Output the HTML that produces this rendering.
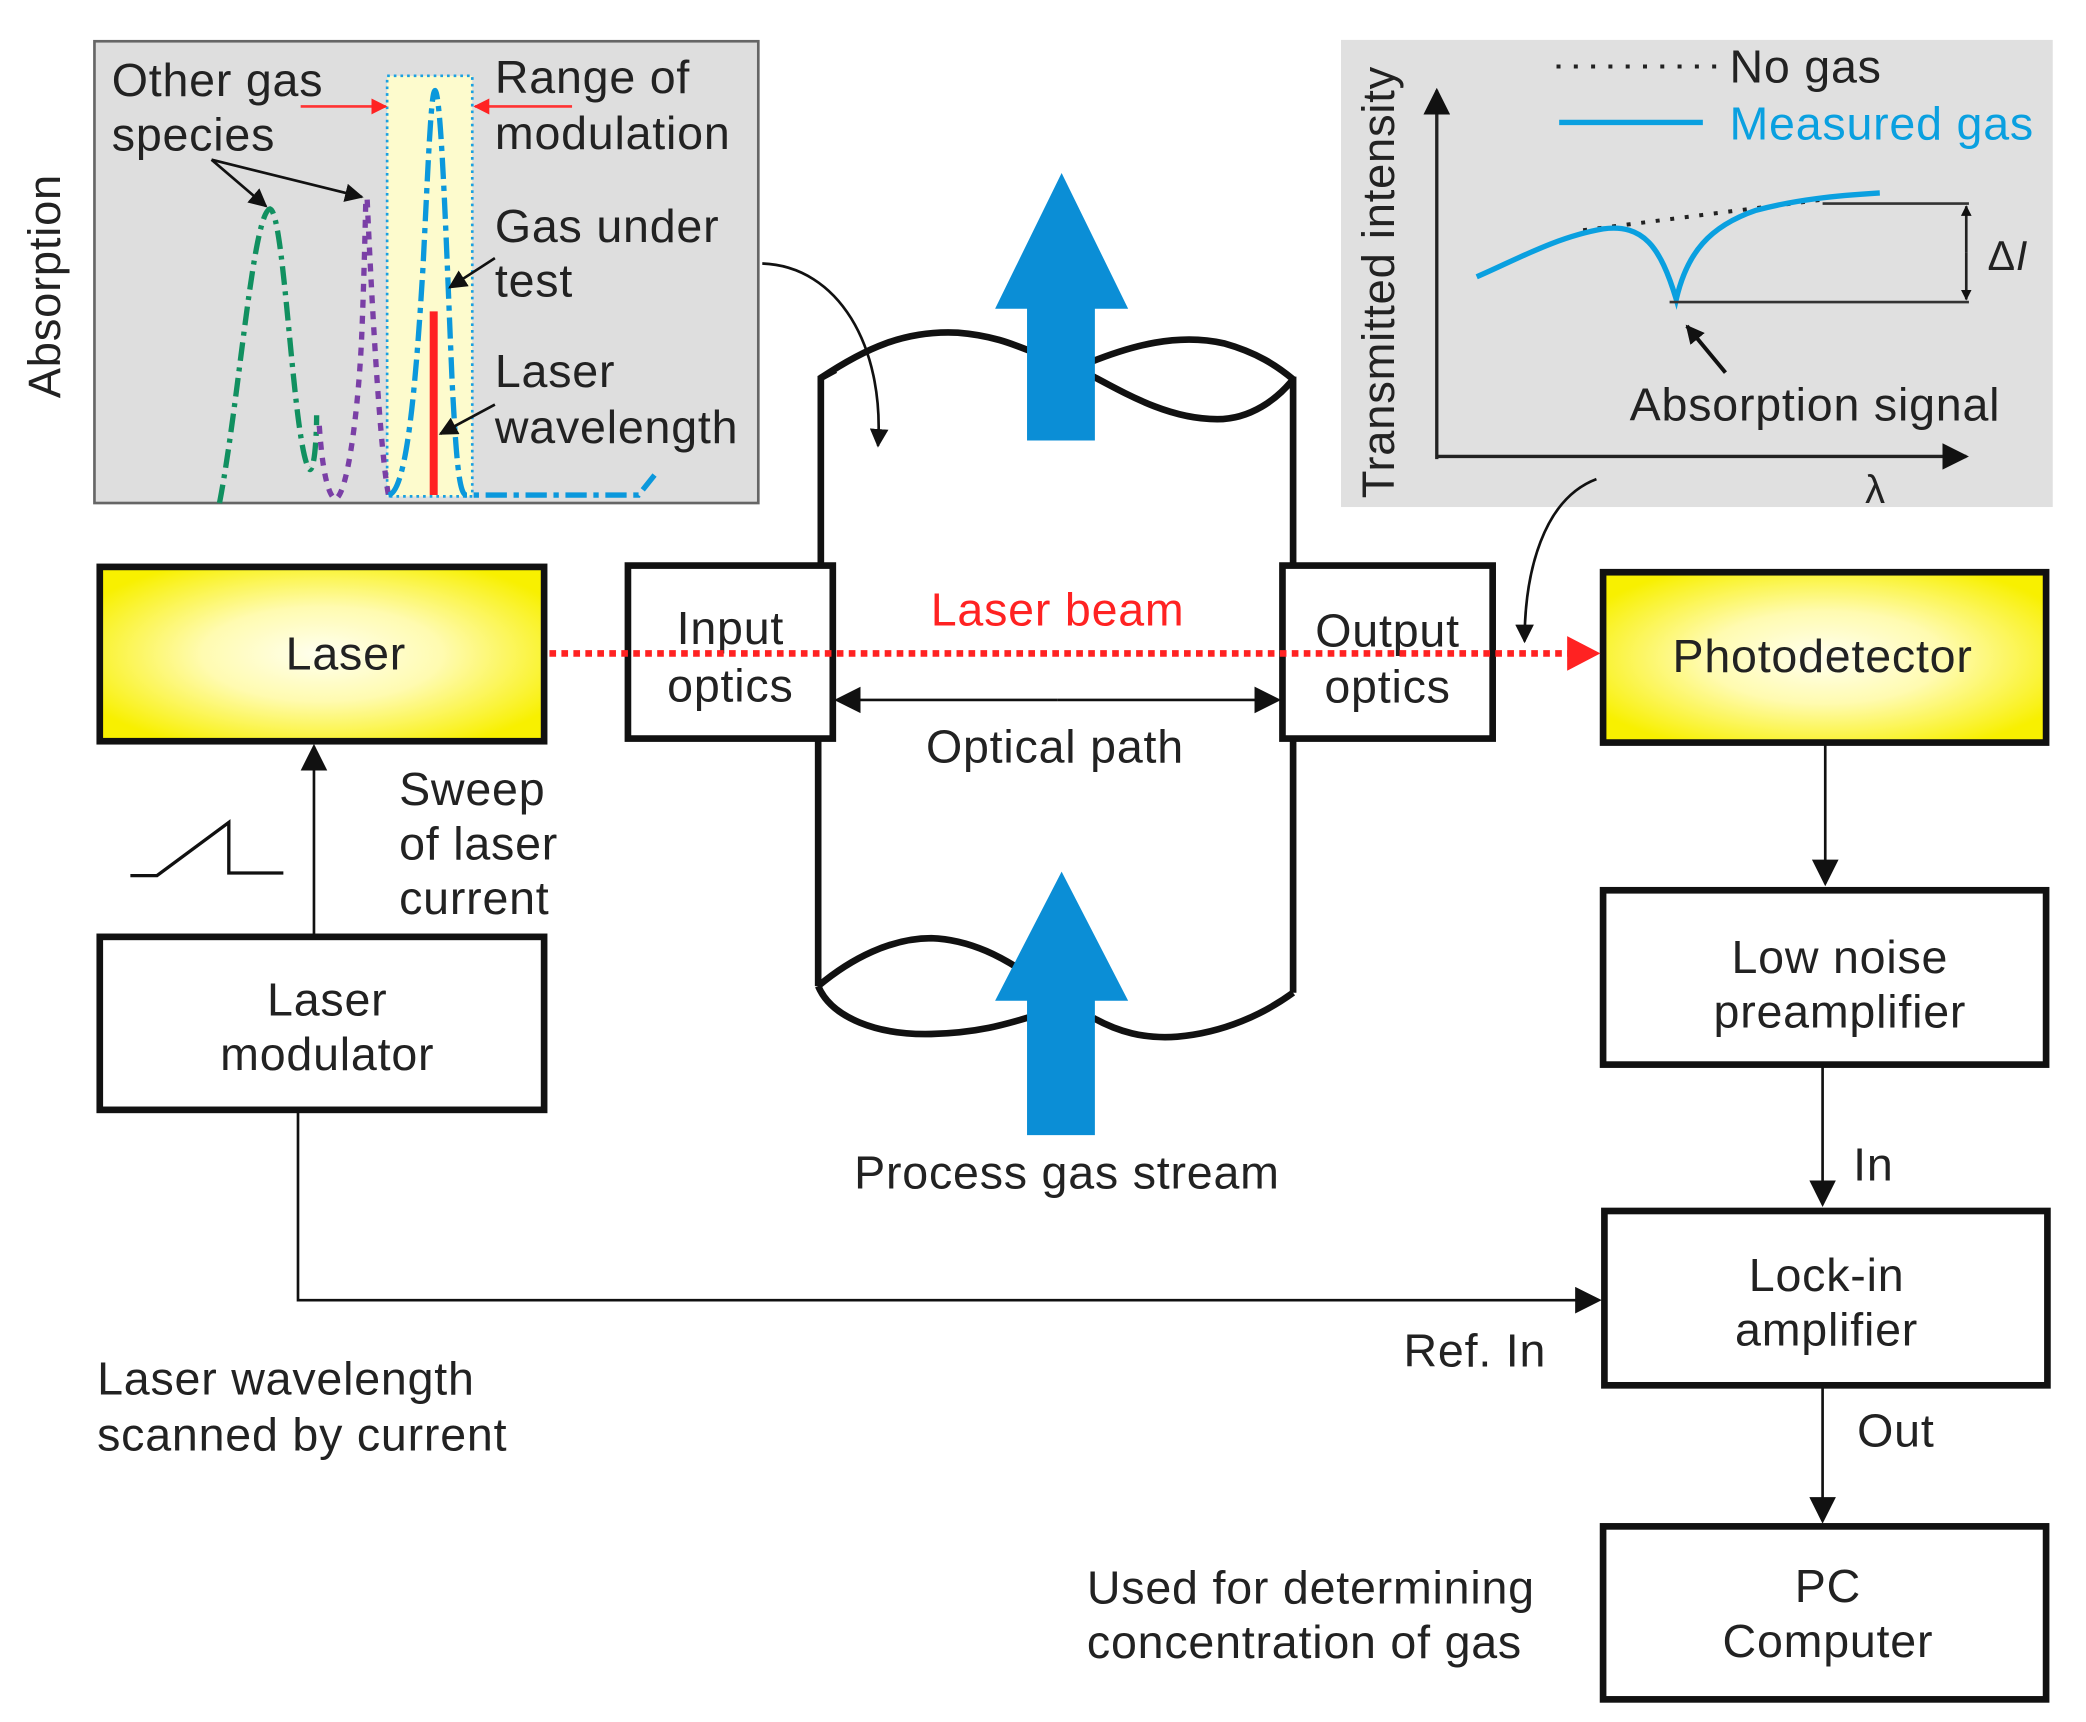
<!DOCTYPE html>
<html><head><meta charset="utf-8"><style>
html,body{margin:0;padding:0;background:#fff;}
svg{display:block;}
text{font-family:"Liberation Sans",Arial,sans-serif;fill:#222;letter-spacing:0.6px;}
</style></head><body>
<svg width="2086" height="1722" viewBox="0 0 1568 1294" preserveAspectRatio="none" xmlns="http://www.w3.org/2000/svg">
<defs>
<radialGradient id="yg" cx="50%" cy="50%" r="60%">
<stop offset="0" stop-color="#fffff0"/><stop offset="0.45" stop-color="#fffbb0"/><stop offset="1" stop-color="#f8f000"/>
</radialGradient>
<marker id="ah" viewBox="0 0 10 10" refX="9" refY="5" markerWidth="8" markerHeight="8" orient="auto" markerUnits="userSpaceOnUse">
<path d="M0,0 L10,5 L0,10z" fill="#111"/></marker>
<marker id="ahb" viewBox="0 0 10 10" refX="9" refY="5" markerWidth="20" markerHeight="20" orient="auto" markerUnits="userSpaceOnUse">
<path d="M0,0 L10,5 L0,10z" fill="#111"/></marker>
<marker id="ahs" viewBox="0 0 10 10" refX="9" refY="5" markerWidth="14" markerHeight="14" orient="auto" markerUnits="userSpaceOnUse">
<path d="M0,0 L10,5 L0,10z" fill="#111"/></marker>
<marker id="ahr" viewBox="0 0 10 10" refX="9" refY="5" markerWidth="12" markerHeight="12" orient="auto" markerUnits="userSpaceOnUse">
<path d="M0,0 L10,5 L0,10z" fill="#f22"/></marker>
</defs>

<!-- Left inset -->
<rect x="71" y="31" width="499" height="347" fill="#dedede" stroke="#666" stroke-width="2"/>
<rect x="291" y="57" width="64" height="316" fill="#fdfbcd" stroke="#1aa0e0" stroke-width="2" stroke-dasharray="2,3"/>
<text x="45" y="215" font-size="34" text-anchor="middle" transform="rotate(-90 45 215)">Absorption</text>
<text x="84" y="72" font-size="35">Other gas</text>
<text x="84" y="113" font-size="35">species</text>
<text x="372" y="70" font-size="35">Range of</text>
<text x="372" y="112" font-size="35">modulation</text>
<text x="372" y="182" font-size="35">Gas under</text>
<text x="372" y="223" font-size="35">test</text>
<text x="372" y="291" font-size="35">Laser</text>
<text x="372" y="333" font-size="35">wavelength</text>
<line x1="226" y1="80" x2="290" y2="80" stroke="#f33" stroke-width="2" marker-end="url(#ahr)"/>
<line x1="430" y1="80" x2="357" y2="80" stroke="#f33" stroke-width="2" marker-end="url(#ahr)"/>
<path d="M165,378 C180,300 190,160 203,157 C214,160 220,330 232,352 C236,358 238,330 238,312" fill="none" stroke="#119060" stroke-width="4" stroke-dasharray="14,5,3,5"/>
<path d="M240,320 C242,350 246,372 252,375 C262,372 270,300 272,250 C274,200 275,148 275,148 M276,150 C280,240 286,340 292,372" fill="none" stroke="#7a3fa6" stroke-width="4" stroke-dasharray="6,6"/>
<path d="M292,372 C305,370 312,300 318,200 C322,120 324,68 327,68 C332,70 336,200 340,290 C343,345 345,370 350,372 L480,372 L492,357" fill="none" stroke="#0b98dc" stroke-width="4" stroke-dasharray="16,5,4,5"/>
<line x1="326" y1="234" x2="326" y2="372" stroke="#f22" stroke-width="6"/>
<line x1="159" y1="120" x2="200" y2="155" stroke="#111" stroke-width="2" marker-end="url(#ahs)"/>
<line x1="159" y1="120" x2="272" y2="148" stroke="#111" stroke-width="2" marker-end="url(#ahs)"/>
<line x1="372" y1="194" x2="338" y2="216" stroke="#111" stroke-width="2" marker-end="url(#ahs)"/>
<line x1="372" y1="304" x2="331" y2="326" stroke="#111" stroke-width="2" marker-end="url(#ahs)"/>

<!-- Right inset -->
<rect x="1008" y="30" width="535" height="351" fill="#e0e0e0"/>
<text x="1048" y="212" font-size="34" text-anchor="middle" transform="rotate(-90 1048 212)">Transmitted intensity</text>
<line x1="1080" y1="345" x2="1080" y2="68" stroke="#222" stroke-width="2.5" marker-end="url(#ahb)"/>
<line x1="1079" y1="343" x2="1478" y2="343" stroke="#222" stroke-width="2.5" marker-end="url(#ahb)"/>
<line x1="1170" y1="50" x2="1290" y2="50" stroke="#222" stroke-width="3" stroke-dasharray="3,10"/>
<text x="1300" y="62" font-size="35">No gas</text>
<line x1="1172" y1="92" x2="1280" y2="92" stroke="#0aa0e0" stroke-width="4"/>
<text x="1300" y="105" font-size="35" style="fill:#0aa0e0">Measured gas</text>
<line x1="1190" y1="173" x2="1370" y2="150" stroke="#222" stroke-width="3" stroke-dasharray="3,8"/>
<path d="M1110,208 C1140,195 1170,178 1205,172 C1235,168 1248,185 1260,225 C1268,190 1285,170 1320,158 C1350,150 1380,147 1413,145" fill="none" stroke="#0aa0e0" stroke-width="4"/>
<line x1="1370" y1="153" x2="1480" y2="153" stroke="#333" stroke-width="2"/>
<line x1="1255" y1="227" x2="1480" y2="227" stroke="#333" stroke-width="2"/>
<line x1="1478" y1="190" x2="1478" y2="155" stroke="#222" stroke-width="2" marker-end="url(#ah)"/>
<line x1="1478" y1="190" x2="1478" y2="225" stroke="#222" stroke-width="2" marker-end="url(#ah)"/>
<text x="1494" y="203" font-size="31">Δ<tspan font-style="italic">I</tspan></text>
<line x1="1297" y1="280" x2="1268" y2="245" stroke="#111" stroke-width="3" marker-end="url(#ahs)"/>
<text x="1225" y="316" font-size="35">Absorption signal</text>
<text x="1402" y="378" font-size="30">λ</text>

<!-- curved arrows from insets -->
<path d="M573,198 C630,200 665,260 660,335" fill="none" stroke="#111" stroke-width="2" marker-end="url(#ahs)"/>
<path d="M1200,360 C1160,375 1146,430 1146,482" fill="none" stroke="#111" stroke-width="2" marker-end="url(#ahs)"/>

<!-- chamber -->
<path d="M617,424 L617,284 L628,278" fill="none" stroke="#111" stroke-width="5"/>
<path d="M617,284 C650,262 680,248 720,250 C745,252 760,258 775,264" fill="none" stroke="#111" stroke-width="5"/>
<path d="M820,272 C850,260 885,250 920,258 C945,265 960,275 972,285" fill="none" stroke="#111" stroke-width="5"/>
<path d="M820,282 C850,298 880,315 915,315 C940,315 960,300 972,285" fill="none" stroke="#111" stroke-width="5"/>
<line x1="972" y1="283" x2="972" y2="424" stroke="#111" stroke-width="5"/>
<line x1="615" y1="556" x2="615" y2="741" stroke="#111" stroke-width="5"/>
<line x1="972" y1="556" x2="972" y2="746" stroke="#111" stroke-width="5"/>
<path d="M615,741 C640,720 670,705 700,705 C730,706 755,720 775,734" fill="none" stroke="#111" stroke-width="5"/>
<path d="M615,741 C625,765 660,778 700,777 C735,776 755,770 775,764" fill="none" stroke="#111" stroke-width="5"/>
<path d="M822,765 C840,775 860,781 885,779 C920,776 950,762 972,746" fill="none" stroke="#111" stroke-width="5"/>

<!-- blue arrows -->
<path d="M798,130 L848,232 L823,232 L823,331 L772,331 L772,232 L748,232 Z" fill="#0b8ed6"/>
<path d="M798,655 L848,752 L823,752 L823,853 L772,853 L772,752 L748,752 Z" fill="#0b8ed6"/>

<!-- boxes -->
<rect x="75" y="426" width="334" height="131" fill="url(#yg)" stroke="#111" stroke-width="5"/>
<text x="260" y="503" font-size="35" text-anchor="middle">Laser</text>
<rect x="472" y="425" width="154" height="130" fill="#fff" stroke="#111" stroke-width="5"/>
<text x="549" y="484" font-size="35" text-anchor="middle">Input</text>
<text x="549" y="527" font-size="35" text-anchor="middle">optics</text>
<rect x="964" y="425" width="158" height="130" fill="#fff" stroke="#111" stroke-width="5"/>
<text x="1043" y="486" font-size="35" text-anchor="middle">Output</text>
<text x="1043" y="528" font-size="35" text-anchor="middle">optics</text>
<rect x="1205" y="430" width="333" height="128" fill="url(#yg)" stroke="#111" stroke-width="5"/>
<text x="1370" y="505" font-size="35" text-anchor="middle">Photodetector</text>
<rect x="1205" y="669" width="333" height="131" fill="#fff" stroke="#111" stroke-width="5"/>
<text x="1383" y="731" font-size="35" text-anchor="middle">Low noise</text>
<text x="1383" y="772" font-size="35" text-anchor="middle">preamplifier</text>
<rect x="1206" y="910" width="333" height="131" fill="#fff" stroke="#111" stroke-width="5"/>
<text x="1373" y="970" font-size="35" text-anchor="middle">Lock-in</text>
<text x="1373" y="1011" font-size="35" text-anchor="middle">amplifier</text>
<rect x="1205" y="1147" width="333" height="130" fill="#fff" stroke="#111" stroke-width="5"/>
<text x="1374" y="1204" font-size="35" text-anchor="middle">PC</text>
<text x="1374" y="1245" font-size="35" text-anchor="middle">Computer</text>
<rect x="75" y="704" width="334" height="130" fill="#fff" stroke="#111" stroke-width="5"/>
<text x="246" y="763" font-size="35" text-anchor="middle">Laser</text>
<text x="246" y="804" font-size="35" text-anchor="middle">modulator</text>

<!-- laser beam -->
<line x1="413" y1="491" x2="1180" y2="491" stroke="#f22" stroke-width="5" stroke-dasharray="5,4"/>
<path d="M1178,478 L1203,491 L1178,504 Z" fill="#f22"/>
<text x="795" y="470" font-size="35" text-anchor="middle" style="fill:#f22">Laser beam</text>
<line x1="795" y1="526" x2="629" y2="526" stroke="#111" stroke-width="2" marker-end="url(#ahb)"/>
<line x1="795" y1="526" x2="961" y2="526" stroke="#111" stroke-width="2" marker-end="url(#ahb)"/>
<text x="793" y="573" font-size="35" text-anchor="middle">Optical path</text>

<!-- left connectors -->
<line x1="236" y1="702" x2="236" y2="561" stroke="#111" stroke-width="2" marker-end="url(#ahb)"/>
<polyline points="98,658 118,658 172,618 172,656 213,656" fill="none" stroke="#111" stroke-width="2.5"/>
<text x="300" y="605" font-size="35">Sweep</text>
<text x="300" y="646" font-size="35">of laser</text>
<text x="300" y="687" font-size="35">current</text>
<polyline points="224,836 224,977 1202,977" fill="none" stroke="#111" stroke-width="2" marker-end="url(#ahb)"/>
<text x="1055" y="1027" font-size="35">Ref. In</text>
<text x="73" y="1048" font-size="35">Laser wavelength</text>
<text x="73" y="1090" font-size="35">scanned by current</text>
<text x="802" y="893" font-size="35" text-anchor="middle">Process gas stream</text>

<!-- right connectors -->
<line x1="1372" y1="560" x2="1372" y2="664" stroke="#111" stroke-width="2" marker-end="url(#ahb)"/>
<line x1="1370" y1="802" x2="1370" y2="905" stroke="#111" stroke-width="2" marker-end="url(#ahb)"/>
<text x="1393" y="887" font-size="35">In</text>
<line x1="1370" y1="1043" x2="1370" y2="1143" stroke="#111" stroke-width="2" marker-end="url(#ahb)"/>
<text x="1396" y="1087" font-size="35">Out</text>
<text x="817" y="1205" font-size="35">Used for determining</text>
<text x="817" y="1246" font-size="35">concentration of gas</text>
</svg>
</body></html>
